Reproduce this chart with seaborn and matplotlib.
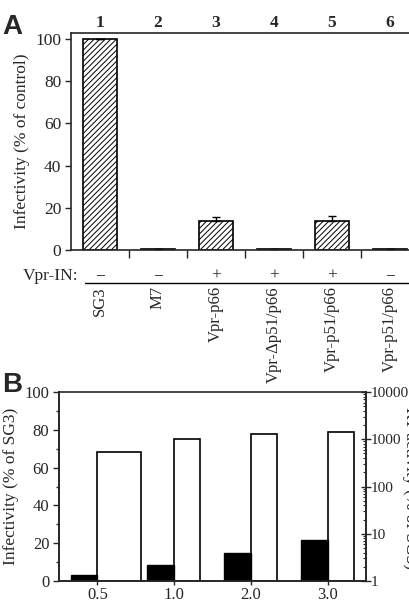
import numpy as np
import pandas as pd
import matplotlib
matplotlib.use("Agg")
import matplotlib.pyplot as plt
import matplotlib.transforms as mtransforms
from matplotlib.ticker import MultipleLocator, LogLocator, NullFormatter
import seaborn as sns

# -----------------------------
# Data
# -----------------------------
lanes = ["1", "2", "3", "4", "5", "6"]
constructs = ["SG3", "M7", "Vpr-p66", "Vpr-\u0394p51/p66", "Vpr-p51/p66", "Vpr-p51/p66"]
vpr_in = ["\u2212", "\u2212", "+", "+", "+", "\u2212"]
infectivity_a = [100, 0.3, 13.9, 0.3, 13.9, 0.5]
err_a = [0, 0, 1.6, 0, 2.2, 0]

doses = ["0.5", "1.0", "2.0", "3.0"]
infectivity_b = [3.0, 8.5, 15.0, 21.5]
rt_activity_b = [525, 1000, 1320, 1450]

sns.set_style("ticks")
plt.rcParams["font.family"] = ["Liberation Serif", "DejaVu Serif"]
plt.rcParams["font.size"] = 12
plt.rcParams["hatch.linewidth"] = 0.7

fig = plt.figure(figsize=(4.1, 6.02), dpi=100)

# -----------------------------
# Panel A
# -----------------------------
ax = fig.add_axes([0.173, 0.5847, 0.849, 0.3605])
df_a = pd.DataFrame({"lane": lanes, "infectivity": infectivity_a})
sns.barplot(data=df_a, x="lane", y="infectivity", color="white", edgecolor="black",
            linewidth=1.2, width=0.6, errorbar=None, ax=ax)
for p in ax.patches:
    p.set_hatch("//////")
xpos = np.arange(len(lanes))
ax.errorbar(xpos, infectivity_a, yerr=[np.zeros(len(err_a)), err_a], fmt="none",
            ecolor="black", elinewidth=1, capsize=3, capthick=1)

ax.set_xlim(-0.5, 5.5)
ax.set_ylim(0, 102.8)
ax.yaxis.set_major_locator(MultipleLocator(20))
ax.tick_params(axis="y", length=4, width=1, pad=3, labelsize=12.5)
ax.set_ylabel("Infectivity (% of control)", fontsize=12.5, labelpad=4)
ax.set_xlabel("")
ax.set_xticks(xpos)
ax.set_xticklabels(constructs, rotation=90, va="top", fontsize=12)
ax.tick_params(axis="x", which="major", length=0, pad=26)
ax.set_xticks(xpos[:-1] + 0.5, minor=True)
ax.tick_params(axis="x", which="minor", length=6, width=1)
for s in ["left", "bottom", "top"]:
    ax.spines[s].set_visible(True)
    ax.spines[s].set_linewidth(1.2)
ax.spines["right"].set_visible(False)

trans = mtransforms.blended_transform_factory(ax.transData, ax.transAxes)
for i, (lab, sign) in enumerate(zip(lanes, vpr_in)):
    ax.text(i, 1.01, lab, transform=trans, ha="center", va="bottom",
            fontsize=12.5, fontweight="bold")
    ax.text(i, -0.12, sign, transform=trans, ha="center", va="center", fontsize=12.5)
ax.text(0.02, -0.12, "Vpr-IN:", transform=ax.transAxes, ha="right", va="center", fontsize=12.5)
ax.plot([-0.26, 5.5], [-0.152, -0.152], color="black", lw=1, transform=trans, clip_on=False)

fig.text(0.005, 0.955, "A", fontsize=20, fontweight="bold", family="Liberation Sans",
         ha="left", va="center")

# -----------------------------
# Panel B
# -----------------------------
bx = fig.add_axes([0.1439, 0.0349, 0.7488, 0.3139])
df_b = pd.DataFrame({"dose": doses, "infectivity": infectivity_b})
xb = np.arange(len(doses))
sns.barplot(data=df_b, x="dose", y="infectivity", color="black", edgecolor="black",
            linewidth=1, width=0.35, errorbar=None, ax=bx)
for p in bx.patches:
    p.set_x(p.get_x() - 0.175)
bx.set_xlim(-0.5, 3.5)
bx.set_ylim(0, 100)
bx.yaxis.set_major_locator(MultipleLocator(20))
bx.yaxis.set_minor_locator(MultipleLocator(10))
bx.tick_params(axis="y", which="major", length=4, width=1, pad=3, labelsize=12)
bx.tick_params(axis="y", which="minor", length=2.5, width=1)
bx.tick_params(axis="x", length=3, width=1, pad=1.5, labelsize=12)
bx.set_xlabel("")
bx.set_ylabel("Infectivity (% of SG3)", fontsize=12.5, labelpad=4)
for s in bx.spines.values():
    s.set_linewidth(1.2)

bx2 = bx.twinx()
widths = [0.57, 0.34, 0.34, 0.34]
bx2.bar(xb, np.array(rt_activity_b) - 1, bottom=1, width=widths, align="edge",
        color="white", edgecolor="black", linewidth=1.2)
bx2.set_yscale("log")
bx2.set_ylim(1, 10000)
bx2.yaxis.set_minor_locator(LogLocator(base=10, subs=np.arange(2, 10)))
bx2.yaxis.set_minor_formatter(NullFormatter())
bx2.set_yticks([1, 10, 100, 1000, 10000])
bx2.set_yticklabels(["1", "10", "100", "1000", "10000"])
bx2.tick_params(axis="y", which="major", direction="inout", length=7, width=1, pad=0, labelsize=11)
bx2.tick_params(axis="y", which="minor", direction="in", length=2.5, width=0.8)
for s in bx2.spines.values():
    s.set_linewidth(1.2)
bx2.spines["top"].set_visible(False)
bx.set_zorder(bx2.get_zorder() + 1)
bx.patch.set_visible(False)

fig.text(1.0, 0.19, "RT activity (% of SG3)", rotation=270, fontsize=12.5,
         ha="center", va="center")
fig.text(0.005, 0.36, "B", fontsize=20, fontweight="bold", family="Liberation Sans",
         ha="left", va="center")

fig.savefig("out.png", dpi=100)
